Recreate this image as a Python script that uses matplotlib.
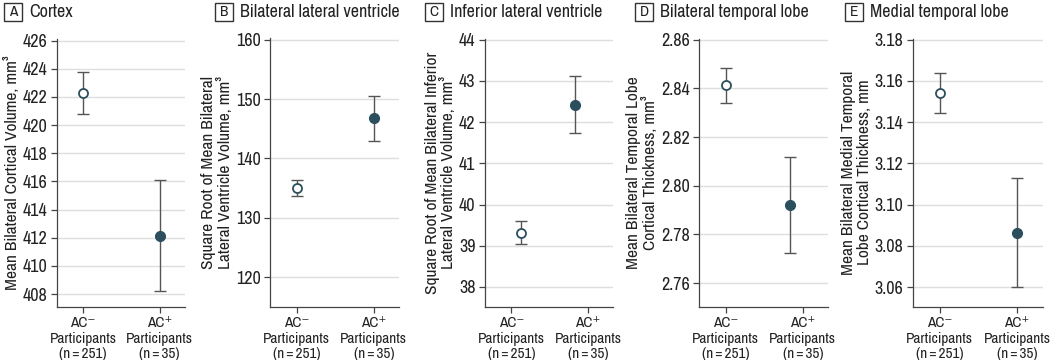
import matplotlib
matplotlib.use("Agg")
import matplotlib.pyplot as plt
from matplotlib.patches import Rectangle

plt.rcParams['font.family'] = ['Archivo Narrow', 'Liberation Sans Narrow', 'DejaVu Sans']

# data
letters = ['A', 'B', 'C', 'D', 'E']
titles = ['Cortex', 'Bilateral lateral ventricle', 'Inferior lateral ventricle',
          'Bilateral temporal lobe', 'Medial temporal lobe']
ylabels = ['Mean Bilateral Cortical Volume, mm\u00b3',
           'Square Root of Mean Bilateral\nLateral Ventricle Volume, mm\u00b3',
           'Square Root of Mean Bilateral Inferior\nLateral Ventricle Volume, mm\u00b3',
           'Mean Bilateral Temporal Lobe\nCortical Thickness, mm\u00b3',
           'Mean Bilateral Medial Temporal\nLobe Cortical Thickness, mm']
groups = ['AC\u207b\nParticipants\n(n\u2009=\u2009251)', 'AC\u207a\nParticipants\n(n\u2009=\u200935)']

neg_mean = [422.28, 135.0, 39.32, 2.8414, 3.154]
neg_lo = [420.8, 133.7, 39.05, 2.8342, 3.1443]
neg_hi = [423.8, 136.4, 39.59, 2.8484, 3.1637]
pos_mean = [412.15, 146.75, 42.42, 2.7922, 3.086]
pos_lo = [408.24, 142.95, 41.74, 2.7724, 3.0599]
pos_hi = [416.07, 150.5, 43.11, 2.812, 3.1127]

yticks = [list(range(408, 427, 2)), [120, 130, 140, 150, 160], [38, 39, 40, 41, 42, 43, 44],
          [2.76, 2.78, 2.80, 2.82, 2.84, 2.86], [3.06, 3.08, 3.10, 3.12, 3.14, 3.16, 3.18]]
ytick_fmt = ['{:.0f}', '{:.0f}', '{:.0f}', '{:.2f}', '{:.2f}']
ylims = [(407.1, 426.15), (115.0, 160.2), (37.52, 44.03), (2.7503, 2.8605), (3.0505, 3.1805)]

# layout
lefts = [57, 270.3, 485.3, 699.3, 913.3]
widths = [128, 129, 128, 129, 129.4]
dodge = [(0, 0), (0, 0), (0.12, -0.17), (0, -0.165), (0, 0)]
box_x = [4, 215, 425, 635, 845]

teal = '#2c4f5e'
ebar = '#555555'

W, H = 1050, 360
fig = plt.figure(figsize=(10.5, 3.6), dpi=100)

for i in range(5):
    bottom = 306.7
    top = 38.5
    ax = fig.add_axes([lefts[i] / W, 1 - bottom / H, widths[i] / W, (bottom - top) / H])
    ax.set_xlim(-0.34, 1.33)
    ax.set_ylim(*ylims[i])
    ax.set_yticks(yticks[i])
    ax.set_yticklabels([ytick_fmt[i].format(v) for v in yticks[i]])
    ax.set_xticks([0, 1])
    ax.set_xticklabels(groups, linespacing=1.1)
    ax.grid(axis='y', color='#dedede', linewidth=1.0)
    ax.set_axisbelow(True)
    for s in ['top', 'right']:
        ax.spines[s].set_visible(False)
    for s in ['left', 'bottom']:
        ax.spines[s].set_color('#444444')
        ax.spines[s].set_linewidth(0.9)
    ax.tick_params(axis='both', colors='#444444', labelcolor='#222222',
                   length=4, width=0.9)
    ax.tick_params(axis='x', pad=3, labelsize=11)
    ax.tick_params(axis='y', pad=3, labelsize=13)
    ax.set_ylabel(ylabels[i], fontsize=12.5, color='#222222', linespacing=1.05, labelpad=2)

    x0 = 0 + dodge[i][0]
    x1 = 1 + dodge[i][1]
    ax.errorbar([x0], [neg_mean[i]],
                yerr=[[neg_mean[i] - neg_lo[i]], [neg_hi[i] - neg_mean[i]]],
                fmt='none', ecolor=ebar, elinewidth=1.0, capsize=4, capthick=1.0)
    ax.plot([x0], [neg_mean[i]], 'o', ms=6.5, mfc='white', mec=teal, mew=1.3, zorder=5)
    ax.errorbar([x1], [pos_mean[i]],
                yerr=[[pos_mean[i] - pos_lo[i]], [pos_hi[i] - pos_mean[i]]],
                fmt='none', ecolor=ebar, elinewidth=1.0, capsize=4, capthick=1.0)
    ax.plot([x1], [pos_mean[i]], 'o', ms=7, mfc=teal, mec=teal, mew=1.0, zorder=5)

    # panel letter box and title
    bx = box_x[i]
    fig.patches.append(Rectangle((bx / W, 1 - 21 / H), 18 / W, 18 / H, transform=fig.transFigure,
                                 facecolor='white', edgecolor='#333333', linewidth=1.0))
    fig.text((bx + 9) / W, 1 - 12 / H, letters[i], ha='center', va='center',
             fontsize=11, fontweight='bold', color='#222222')
    fig.text((bx + 25) / W, 1 - 12 / H, titles[i], ha='left', va='center',
             fontsize=13, color='#222222')

fig.savefig('out.png', dpi=100, facecolor='white')
